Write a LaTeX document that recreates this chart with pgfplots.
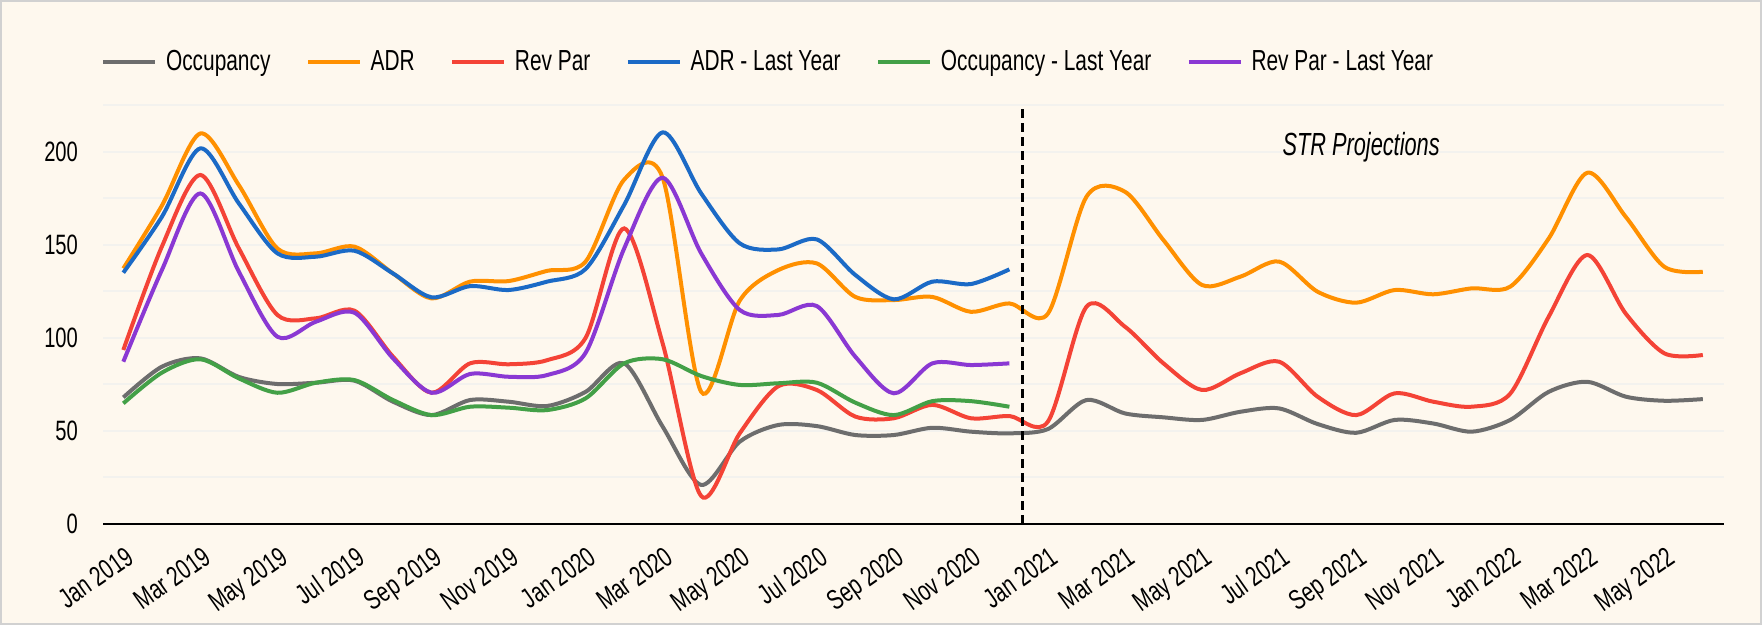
\documentclass[border=0pt]{standalone}
\usepackage{fontspec}
\setmainfont{Liberation Sans}[FakeStretch=0.72]
\newfontfamily\tickfont{Liberation Sans}[FakeStretch=0.72]
\newfontfamily\strfont{Liberation Sans}[FakeStretch=0.68]
\usepackage{pgfplots}
\usepackage{pgfplotstable}
\pgfplotsset{compat=1.18}
\definecolor{bg}{HTML}{FEF8EE}
\definecolor{gridc}{HTML}{F3F2EE}
\definecolor{cOcc}{HTML}{6D6D6D}
\definecolor{cADR}{HTML}{FF9000}
\definecolor{cRev}{HTML}{F44336}
\definecolor{cADRly}{HTML}{1B6AC6}
\definecolor{cOccly}{HTML}{43A047}
\definecolor{cRevly}{HTML}{8A38D3}

\pgfplotstableread{
x occ adr rev
0 68 137.3 93.5
1 84.5 171 149
2 89 209.8 187.5
3 79 182 148
4 75.2 148 112.3
5 75.9 145.4 110.5
6 77 149 114.6
7 65.7 134.6 89.9
8 58.5 121.2 70.5
9 66.6 130.2 86.3
10 65.7 130.5 85.8
11 63.4 136 88
12 71 141 100
13 86.3 185 158.8
14 52.3 186 97
15 21 71 15
16 44.2 120 48.7
17 53.2 136.4 74
18 52.6 140 72
19 47.8 122 57.7
20 47.8 120.3 56.8
21 51.7 122 64
22 49.6 114 56.8
23 48.7 118.5 58
24 51 113 55
25 66.6 175.8 116.7
26 59.4 178.5 106
27 57.3 152.5 86.3
28 55.9 128.4 72
29 60.3 132.9 81
30 62.1 141 87.2
31 53.7 124.8 68.4
32 49 118.9 58.5
33 55.9 125.7 70.2
34 54 123.4 65.7
35 49.6 126.6 63
36 55.9 127.5 70
37 71 153.4 111.4
38 76.4 188.7 144.5
39 68.4 165 113
40 66.2 138.2 91.7
41 67.1 135.5 90.8
}\cur

\pgfplotstableread{
x adrly occly revly
0 135 64.8 87.2
1 165 81.3 136.4
2 201.8 88.5 177.6
3 172.2 78.2 135.5
4 145.4 70.5 100.6
5 143.6 75.9 108.7
6 146.8 77.3 113.5
7 134.6 66.6 89
8 121.8 58.5 70.5
9 127.8 63 80.6
10 125.7 62.5 79.1
11 130.2 61.2 80
12 137 67.5 92
13 171.4 86.3 148
14 210.4 88.5 186
15 177.6 79.5 145.4
16 150.8 74.7 115
17 147.5 75.6 112.3
18 152.9 75.9 117.1
19 133.8 65.2 89.9
20 120.7 58.5 70.2
21 130.2 66 86.3
22 128.9 66 85.4
23 136.8 63 86.3
}\ly

\begin{document}
\begin{tikzpicture}
\fill[bg] (0,0) rectangle (881pt,312.5pt);
\draw[black!18, line width=1pt] (0.5pt,0.5pt) rectangle (880.5pt,312pt);
\begin{axis}[
  at={(51.65pt,50.5pt)}, anchor=south west,
  scale only axis, width=810.35pt, height=209.4pt,
  xmin=-0.52, xmax=41.55, ymin=0, ymax=225,
  axis x line*=bottom, axis y line*=left,
  x axis line style={line width=1.4pt, black, -},
  y axis line style={draw=none},
  xtick={0,2,...,40},
  xticklabels={Jan 2019,Mar 2019,May 2019,Jul 2019,Sep 2019,Nov 2019,Jan 2020,Mar 2020,May 2020,Jul 2020,Sep 2020,Nov 2020,Jan 2021,Mar 2021,May 2021,Jul 2021,Sep 2021,Nov 2021,Jan 2022,Mar 2022,May 2022},
  ytick={0,50,...,200},
  minor ytick={25,75,...,225},
  ymajorgrids, yminorgrids,
  major grid style={gridc, line width=1pt},
  minor grid style={gridc, line width=1pt},
  major tick length=0pt, minor tick length=0pt,
  tick style={draw=none},
  /pgf/number format/assume math mode=true,
  ticklabel style={font=\tickfont\fontsize{14pt}{16pt}\selectfont},
  xticklabel style={xshift=0.5pt, yshift=-10.5pt, rotate=35, anchor=north east, inner sep=0pt},
  yticklabel style={anchor=east, inner sep=0pt, xshift=-12.5pt},
  legend columns=6,
  legend cell align=left,
  legend style={at={(-0.0014,1.103)}, anchor=west, draw=none, fill=none, inner sep=0pt,
    font=\fontsize{14.5pt}{16pt}\selectfont,
    /tikz/every odd column/.append style={column sep=2.5pt},
    /tikz/every even column/.append style={column sep=15.8pt}},
  legend image code/.code={\draw[#1, line width=2pt] (0pt,0pt) -- (25.8pt,0pt);},
  every axis plot/.append style={line width=2pt, smooth, no marks},
]
\addplot[cOcc] table[x=x, y=occ] {\cur};
\addlegendentry{Occupancy}
\addplot[cADR] table[x=x, y=adr] {\cur};
\addlegendentry{ADR}
\addplot[cRev] table[x=x, y=rev] {\cur};
\addlegendentry{Rev Par}
\addplot[cADRly] table[x=x, y=adrly] {\ly};
\addlegendentry{ADR - Last Year}
\addplot[cOccly] table[x=x, y=occly] {\ly};
\addlegendentry{Occupancy - Last Year}
\addplot[cRevly] table[x=x, y=revly] {\ly};
\addlegendentry{Rev Par - Last Year}
\addplot[black, line width=1.5pt, dash pattern=on 4.5pt off 2.5pt, sharp plot, forget plot] coordinates {(23.35,0) (23.35,223)};
\node[anchor=base, font=\strfont\fontsize{16pt}{18pt}\selectfont\itshape] at (axis cs:32.13,198.2) {STR Projections};
\end{axis}
\end{tikzpicture}
\end{document}
